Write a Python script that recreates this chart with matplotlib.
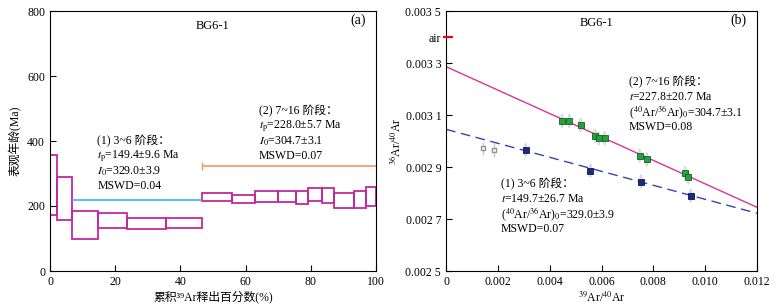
import numpy as np
import matplotlib
matplotlib.use('Agg')
import matplotlib.pyplot as plt
import matplotlib.transforms as mtransforms
from matplotlib.patches import Ellipse

plt.rcParams['font.family'] = ['Liberation Serif', 'Noto Sans CJK SC', 'DejaVu Serif']
plt.rcParams['mathtext.fontset'] = 'stix'
plt.rcParams['font.size'] = 8.5

# ---- (a) age spectrum ----
step_left = [0.0, 2.0, 6.6, 14.8, 23.6, 35.6, 46.5, 55.9, 62.9, 69.9, 75.5, 79.2, 83.4, 87.2, 93.2, 96.8]
step_right = [2.0, 6.6, 14.8, 23.6, 35.6, 46.5, 55.9, 62.9, 69.9, 75.5, 79.2, 83.4, 87.2, 93.2, 96.8, 100.0]
age_low = [171, 156, 98, 132, 128, 133, 214, 210, 213, 212, 205, 215, 209, 194, 193, 201]
age_high = [357, 290, 184, 179, 163, 162, 241, 235, 246, 245, 246, 256, 255, 241, 245, 259]
plateau1 = (6.6, 46.5, 219)
plateau2 = (46.5, 100.0, 323)

# ---- (b) inverse isochron ----
green_x = [0.00448, 0.00476, 0.00519, 0.00576, 0.00589, 0.00612, 0.00747, 0.00775, 0.00922, 0.00935]
green_y = [0.003078, 0.003077, 0.003062, 0.003019, 0.003010, 0.003010, 0.002944, 0.002929, 0.002876, 0.002860]
blue_x = [0.00307, 0.00557, 0.00752, 0.00944]
blue_y = [0.002965, 0.002886, 0.002844, 0.002790]
open_x = [0.00143, 0.00186]
open_y = [0.002972, 0.002965]
xerr = 0.00005
yerr = 0.000026
line2 = (0.003286, 0.002745)   # y at x=0 and x=0.012
line1 = (0.003045, 0.002722)
air = 0.0034

fig = plt.figure(figsize=(7.77, 3.08), dpi=100)
ax1 = fig.add_axes([50 / 777, 37 / 308, 326 / 777, 260 / 308])
ax2 = fig.add_axes([446 / 777, 37 / 308, 311 / 777, 260 / 308])

mag = '#c2279c'
widths = np.array(step_right) - np.array(step_left)
heights = np.array(age_high) - np.array(age_low)
ax1.bar(step_left, heights, width=widths, bottom=age_low, align='edge',
        fill=False, edgecolor=mag, linewidth=1.3)
ax1.hlines(plateau1[2], plateau1[0], plateau1[1], color='#3bb3e6', lw=1.2)
ax1.hlines(plateau2[2], plateau2[0], plateau2[1], color='#f2975e', lw=1.2)
ax1.vlines(plateau2[0], plateau2[2] - 12, plateau2[2] + 12, color='#f2975e', lw=1.0)
ax1.set_xlim(0, 100)
ax1.set_ylim(0, 800)
ax1.set_xticks([0, 20, 40, 60, 80, 100])
ax1.set_yticks([0, 200, 400, 600, 800])
ax1.set_xlabel('累积³⁹Ar释出百分数(%)', labelpad=2, fontsize=8.5)
ax1.set_ylabel('表观年龄(Ma)', labelpad=4, fontsize=8.5)
ax1.text(50, 755, 'BG6-1', ha='center', va='center', fontsize=9)
ax1.text(97, 770, '(a)', ha='right', va='center', fontsize=10)
tx = 14.5
for i, s in enumerate(['(1) 3~6 阶段：', '$t_{\\rm p}$=149.4±9.6 Ma', '$I_0$=329.0±3.9', 'MSWD=0.04']):
    ax1.text(tx, 400 - i * 46, s, va='center')
tx = 64
for i, s in enumerate(['(2) 7~16 阶段：', '$t_{\\rm p}$=228.0±5.7 Ma', '$I_0$=304.7±3.1', 'MSWD=0.07']):
    ax1.text(tx, 492 - i * 46, s, va='center')

xs = np.array([0, 0.012])
ax2.plot(xs, line2, color='#d9339e', lw=1.0)
ax2.plot(xs, line1, color='#3545b0', lw=1.0, dashes=(7, 4))
for x, y in zip(green_x + blue_x, green_y + blue_y):
    ax2.add_patch(Ellipse((x, y), 2 * xerr, 2 * yerr, facecolor='#e2e2e2',
                          edgecolor='#d0d0d0', lw=0.5, zorder=2))
ax2.errorbar(open_x, open_y, yerr=yerr, fmt='s', mfc='white', mec='#909090',
             ecolor='#c8c8c8', ms=3.5, elinewidth=1, capsize=0, zorder=3)
ax2.plot(green_x, green_y, 's', ms=5, mfc='#22a33c', mec='#1a5a2a', mew=0.6, zorder=4)
ax2.plot(blue_x, blue_y, 's', ms=5, mfc='#1c2a85', mec='#101850', mew=0.6, zorder=4)
ax2.set_xlim(0, 0.012)
ax2.set_ylim(0.0025, 0.0035)
ax2.set_xticks([0, 0.002, 0.004, 0.006, 0.008, 0.010, 0.012])
ax2.set_xticklabels(['0', '0.002', '0.004', '0.006', '0.008', '0.010', '0.012'])
yt = [0.0025, 0.0027, 0.0029, 0.0031, 0.0033, air, 0.0035]
ax2.set_yticks(yt)
ax2.set_yticklabels(['0.002 5', '0.002 7', '0.002 9', '0.003 1', '0.003 3', 'air', '0.003 5'])
ax2.set_xlabel('$^{39}$Ar/$^{40}$Ar', labelpad=2, fontsize=8.5)
ax2.set_ylabel('$^{36}$Ar/$^{40}$Ar', labelpad=2, fontsize=8.5)
ax2.text(0.0058, 0.003455, 'BG6-1', ha='center', va='center', fontsize=9)
ax2.text(0.0116, 0.003463, '(b)', ha='right', va='center', fontsize=10)
for i, s in enumerate(['(2) 7~16 阶段：', '$t$=227.8±20.7 Ma',
                       '($^{40}$Ar/$^{36}$Ar)$_0$=304.7±3.1', 'MSWD=0.08']):
    ax2.text(0.00705, 0.003225 - i * 0.0000575, s, va='center')
for i, s in enumerate(['(1) 3~6 阶段：', '$t$=149.7±26.7 Ma',
                       '($^{40}$Ar/$^{36}$Ar)$_0$=329.0±3.9', 'MSWD=0.07']):
    ax2.text(0.00212, 0.002835 - i * 0.0000575, s, va='center')

for ax in (ax1, ax2):
    ax.tick_params(direction='in', length=4, width=0.8, labelsize=8.5)
    for sp in ax.spines.values():
        sp.set_linewidth(0.8)

# red marker for the air ratio on the y axis
trans = mtransforms.blended_transform_factory(ax2.transAxes, ax2.transData)
ax2.plot([-0.008, 0.018], [air, air], color='red', lw=1.5, transform=trans,
         clip_on=False, zorder=5)

fig.savefig('out.png', dpi=100)
